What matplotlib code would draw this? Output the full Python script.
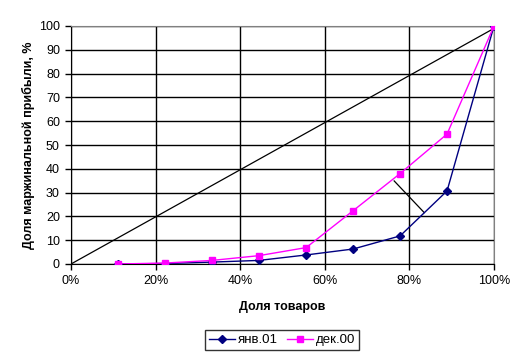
import matplotlib
matplotlib.use('Agg')
from matplotlib import pyplot as plt

plt.rcParams['font.family'] = ['Liberation Sans', 'DejaVu Sans']

# Доля товаров, %
x = [11.1, 22.2, 33.3, 44.4, 55.6, 66.7, 77.8, 88.9, 100]
jan01 = [0, 0.2, 0.8, 1.5, 3.8, 6.3, 11.8, 30.7, 100]
dec00 = [0, 0.4, 1.5, 3.5, 6.9, 22.4, 38.0, 54.6, 100]

diag_x = [0, 100]
diag_y = [0, 99]
gap_x = [76.4, 83.5]
gap_y = [34.9, 21.6]

x_ticks = [0, 20, 40, 60, 80, 100]
x_labels = ['0%', '20%', '40%', '60%', '80%', '100%']
y_ticks = list(range(0, 101, 10))

fig = plt.figure(figsize=(5.27, 3.59), dpi=100)
ax = fig.add_axes([71 / 527, 1 - 264 / 359, 423 / 527, 238 / 359])

ax.plot(diag_x, diag_y, color='black', lw=0.9, zorder=2)
ax.plot(gap_x, gap_y, color='black', lw=0.9, zorder=2)
ax.plot(x, jan01, color='#000080', lw=1, marker='D', ms=4, label='янв.01', zorder=3)
ax.plot(x, dec00, color='#FF00FF', lw=1, marker='s', ms=5, label='дек.00', zorder=4)

ax.set_xlim(0, 100)
ax.set_ylim(0, 100)
ax.set_xticks(x_ticks)
ax.set_xticklabels(x_labels)
ax.set_yticks(y_ticks)
ax.grid(True, color='black', lw=1)
ax.set_axisbelow(True)
ax.tick_params(labelsize=9, length=4, width=1, color='black', pad=4)
for s in ['top', 'right']:
    ax.spines[s].set_color('#808080')
for s in ['left', 'bottom']:
    ax.spines[s].set_color('black')

ax.set_xlabel('Доля товаров', fontsize=9, fontweight='bold', labelpad=10)
ax.set_ylabel('Доля маржинальной прибыли, %', fontsize=9, fontweight='bold', labelpad=3)

leg = fig.legend(loc='center', bbox_to_anchor=(282 / 527, 1 - 340 / 359), ncol=2,
                 fontsize=9.5, frameon=True, fancybox=False, edgecolor='black',
                 handlelength=2.0, handletextpad=0.2, columnspacing=0.7,
                 borderpad=0.3, borderaxespad=0)
leg.get_frame().set_linewidth(1)

plt.savefig('out.png', dpi=100)
